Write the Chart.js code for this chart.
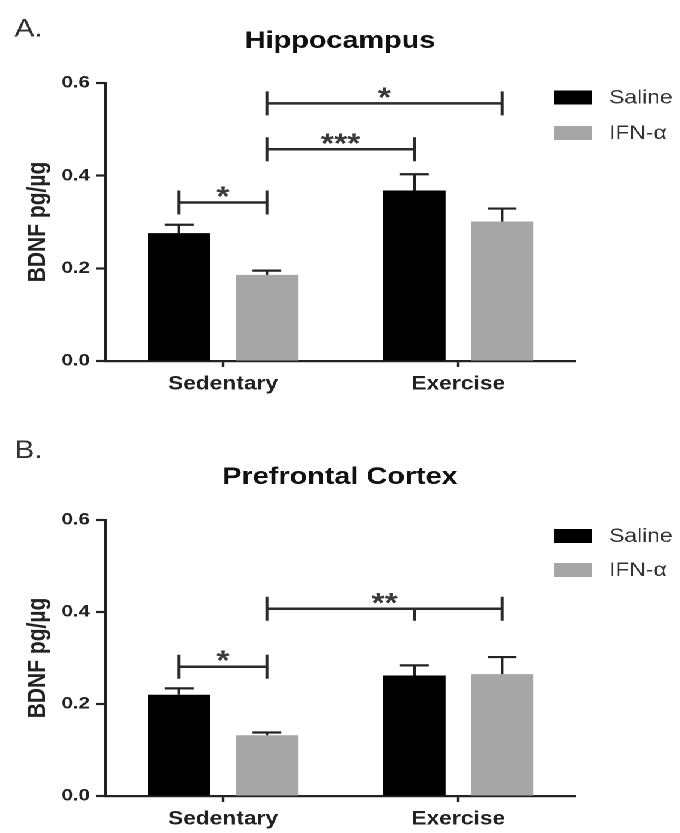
<!DOCTYPE html>
<html>
<head>
<meta charset="utf-8">
<title>BDNF levels</title>
<script src="https://cdn.jsdelivr.net/npm/chart.js@4/dist/chart.umd.min.js"></script>
<style>
  html, body { margin: 0; padding: 0; background: #fff; }
  #page { width: 680px; height: 833px; overflow: hidden; position: relative; }
  /* the figure is laid out 567px wide and widened to the page width */
  #stretch { width: 567px; height: 833px; transform: scaleX(1.199295); transform-origin: 0 0; }
  canvas { display: block; }
</style>
</head>
<body>
<div id="page">
  <div id="stretch">
    <canvas id="hippo" width="567" height="410" style="width:567px;height:410px"></canvas>
    <canvas id="pfc" width="567" height="423" style="width:567px;height:423px"></canvas>
  </div>
</div>
<script>
// ---- data (BDNF, pg/µg; mean and SEM) ----
const categories = ['Sedentary', 'Exercise'];
const seriesNames = ['Saline', 'IFN-α'];
const yTicks = [0, 0.2, 0.4, 0.6];

const hippoSaline    = [0.276, 0.368];
const hippoSalineSem = [0.018, 0.035];
const hippoIfn       = [0.186, 0.301];
const hippoIfnSem    = [0.009, 0.028];

const pfcSaline    = [0.220, 0.262];
const pfcSalineSem = [0.014, 0.022];
const pfcIfn       = [0.132, 0.265];
const pfcIfnSem    = [0.006, 0.037];

// comparison brackets: ends given as [series, category], height in pg/µg
const hippoBrackets = [
  { from: [0, 0], to: [1, 0], y: 0.342, label: '*' },
  { from: [1, 0], to: [0, 1], y: 0.457, label: '***' },
  { from: [1, 0], to: [1, 1], y: 0.556, label: '*' },
];
const pfcBrackets = [
  { from: [0, 0], to: [1, 0], y: 0.281, label: '*' },
  { from: [1, 0], to: [1, 1], y: 0.407, label: '**', mid: [0, 1] },
];

// ---- drawing ----
const FONT = "'Liberation Sans', Arial, Helvetica, sans-serif";
const INK = '#222';
const SALINE_COLOR = '#000000';
const IFN_COLOR = '#a6a6a6';
Chart.defaults.font.family = FONT;

const panelDecor = {
  id: 'panelDecor',
  // SEM whiskers above each bar
  afterDatasetsDraw(chart) {
    const { ctx, scales: { y } } = chart;
    ctx.save();
    ctx.strokeStyle = INK;
    ctx.lineWidth = 2.2;
    chart.data.datasets.forEach((ds, i) => {
      chart.getDatasetMeta(i).data.forEach((bar, j) => {
        const top = y.getPixelForValue(ds.data[j] + ds.sem[j]);
        ctx.beginPath();
        ctx.moveTo(bar.x, bar.y);
        ctx.lineTo(bar.x, top);
        ctx.moveTo(bar.x - 12, top);
        ctx.lineTo(bar.x + 12, top);
        ctx.stroke();
      });
    });
    ctx.restore();
  },
  // panel letter, title, significance brackets and legend
  afterDraw(chart, args, opts) {
    const { ctx, scales: { y } } = chart;
    const barX = ([s, c]) => chart.getDatasetMeta(s).data[c].x;
    ctx.save();

    ctx.textBaseline = 'alphabetic';
    ctx.textAlign = 'left';
    ctx.fillStyle = '#333';
    ctx.font = `25px ${FONT}`;
    ctx.fillText(opts.tag, 12, opts.tagBaseline);

    ctx.textAlign = 'center';
    ctx.fillStyle = '#111';
    ctx.font = `bold 24px ${FONT}`;
    ctx.fillText(opts.title, chart.width / 2, opts.titleBaseline);

    ctx.strokeStyle = '#2a2a2a';
    ctx.lineWidth = 2.5;
    opts.brackets.forEach(b => {
      const x1 = barX(b.from), x2 = barX(b.to);
      const yy = y.getPixelForValue(b.y);
      ctx.beginPath();
      ctx.moveTo(x1, yy - 12); ctx.lineTo(x1, yy + 12);
      ctx.moveTo(x2, yy - 12); ctx.lineTo(x2, yy + 12);
      ctx.moveTo(x1, yy); ctx.lineTo(x2, yy);
      if (b.mid) {
        const xm = barX(b.mid);
        ctx.moveTo(xm, yy); ctx.lineTo(xm, yy + 12);
      }
      ctx.stroke();
      ctx.fillStyle = '#3a3a3a';
      ctx.font = `bold 28px ${FONT}`;
      ctx.fillText(b.label, (x1 + x2) / 2, yy + 3);
    });

    ctx.textAlign = 'left';
    ctx.textBaseline = 'middle';
    ctx.font = `19px ${FONT}`;
    chart.data.datasets.forEach((ds, i) => {
      const cy = opts.legendY[i];
      ctx.fillStyle = ds.backgroundColor;
      ctx.fillRect(462, cy - 7, 32, 14);
      ctx.fillStyle = '#333';
      ctx.fillText(ds.label, 508, cy + 1);
    });

    ctx.restore();
  }
};

function makePanel(id, saline, salineSem, ifn, ifnSem, brackets, g) {
  return new Chart(document.getElementById(id), {
    type: 'bar',
    data: {
      labels: categories,
      datasets: [
        { label: seriesNames[0], data: saline, sem: salineSem, backgroundColor: SALINE_COLOR },
        { label: seriesNames[1], data: ifn, sem: ifnSem, backgroundColor: IFN_COLOR },
      ],
    },
    options: {
      responsive: false,
      animation: false,
      devicePixelRatio: 2,
      events: [],
      datasets: { bar: { barPercentage: 0.71, categoryPercentage: 0.747, borderWidth: 0 } },
      layout: { padding: { top: g.top, left: 0, right: 87, bottom: 0 } },
      scales: {
        x: {
          afterFit: s => { s.height = s.chart.height - g.bottom; },
          grid: { display: true, drawOnChartArea: false, offset: false, tickLength: 6, tickWidth: 2.2, tickColor: INK },
          border: { display: true, color: INK, width: 2.2 },
          ticks: { color: INK, padding: 6, font: { size: 19, weight: 'bold' } },
        },
        y: {
          min: 0,
          max: 0.6,
          afterFit: s => { s.width = 88; },
          afterBuildTicks: s => { s.ticks = yTicks.map(v => ({ value: v })); },
          grid: { display: true, drawOnChartArea: false, tickLength: 8, tickWidth: 2.2, tickColor: INK },
          border: { display: true, color: INK, width: 2.2 },
          ticks: { color: INK, padding: 5, font: { size: 17, weight: 'bold' }, callback: v => Number(v).toFixed(1) },
          title: {
            display: true, text: 'BDNF pg/µg', color: INK,
            font: { size: 21, weight: 'bold', lineHeight: 1.2 },
            padding: { top: 19, bottom: 0 },
          },
        },
      },
      plugins: {
        legend: { display: false },
        tooltip: { enabled: false },
        panelDecor: {
          tag: g.tag, title: g.title, tagBaseline: g.tagBaseline, titleBaseline: g.titleBaseline,
          legendY: g.legendY, brackets: brackets,
        },
      },
    },
    plugins: [panelDecor],
  });
}

makePanel('hippo', hippoSaline, hippoSalineSem, hippoIfn, hippoIfnSem, hippoBrackets, {
  tag: 'A.', title: 'Hippocampus', top: 83, bottom: 361,
  tagBaseline: 36.5, titleBaseline: 48, legendY: [97.5, 133],
});
makePanel('pfc', pfcSaline, pfcSalineSem, pfcIfn, pfcIfnSem, pfcBrackets, {
  tag: 'B.', title: 'Prefrontal Cortex', top: 110, bottom: 386,
  tagBaseline: 48, titleBaseline: 74, legendY: [126, 160],
});
</script>
</body>
</html>
